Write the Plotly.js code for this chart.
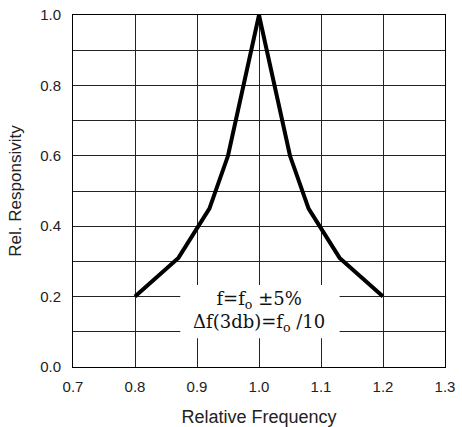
<!DOCTYPE html>
<html>
<head>
<meta charset="utf-8">
<script src="https://cdn.plot.ly/plotly-3.0.1.min.js"></script>
<style>html,body{margin:0;padding:0;background:#fff;}#chart{width:462px;height:427px;}</style>
</head>
<body>
<div id="chart"></div>
<script>
const relFreq = [0.8, 0.87, 0.92, 0.95, 1.0, 1.05, 1.08, 1.13, 1.2];
const relResp = [0.2, 0.31, 0.45, 0.6, 1.0, 0.6, 0.45, 0.31, 0.2];
const xTicks = [0.7, 0.8, 0.9, 1.0, 1.1, 1.2, 1.3];
const xTickLabels = ['0.7', '0.8', '0.9', '1.0', '1.1', '1.2', '1.3'];
const yTicks = [0.0, 0.2, 0.4, 0.6, 0.8, 1.0];
const yTickLabels = ['0.0', '0.2', '0.4', '0.6', '0.8', '1.0'];
const noteText = 'f=f<sub>o</sub> ±5%<br>Δf(3db)=f<sub>o</sub> /10';

const trace = {
  x: relFreq, y: relResp, type: 'scatter', mode: 'lines',
  line: {color: '#000', width: 4, shape: 'linear'},
  hoverinfo: 'skip', cliponaxis: false
};

const layout = {
  width: 462, height: 427,
  margin: {l: 73, r: 17, t: 15, b: 60},
  paper_bgcolor: '#fff', plot_bgcolor: '#fff',
  showlegend: false,
  font: {family: 'Liberation Sans, Arial, sans-serif', color: '#222'},
  xaxis: {
    range: [0.7, 1.3], tickmode: 'array', tickvals: xTicks, ticktext: xTickLabels,
    showgrid: true, gridcolor: '#222', gridwidth: 1, zeroline: false,
    showline: true, linecolor: '#000', linewidth: 1, mirror: true,
    ticks: '', ticklabelstandoff: 6,
    tickfont: {size: 15, color: '#222', family: 'Liberation Sans, Arial, sans-serif'},
    title: {text: 'Relative Frequency', font: {size: 18, color: '#222'}, standoff: 22}
  },
  yaxis: {
    range: [0, 1.0], tickmode: 'array', tickvals: yTicks, ticktext: yTickLabels,
    showgrid: true, gridcolor: '#222', gridwidth: 1, zeroline: false,
    minor: {dtick: 0.1, showgrid: true, gridcolor: '#222', gridwidth: 1, ticks: ''},
    showline: true, linecolor: '#000', linewidth: 1, mirror: true,
    ticks: '', ticklabelstandoff: 8,
    tickfont: {size: 15, color: '#222', family: 'Liberation Sans, Arial, sans-serif'},
    title: {text: 'Rel. Responsivity', font: {size: 17, color: '#222'}, standoff: 14}
  },
  shapes: [{
    type: 'rect', xref: 'x', yref: 'y', x0: 0.873, x1: 1.13, y0: 0.082, y1: 0.233,
    fillcolor: '#fff', line: {width: 0}, layer: 'between'
  }],
  annotations: [
    {x: 1.0, y: 0.157, xref: 'x', yref: 'y', text: noteText, showarrow: false,
     font: {family: 'DejaVu Serif, serif', size: 18, color: '#111'}, align: 'center', borderpad: 0}
  ]
};

Plotly.newPlot('chart', [trace], layout, {staticPlot: true, displayModeBar: false});
</script>
</body>
</html>
